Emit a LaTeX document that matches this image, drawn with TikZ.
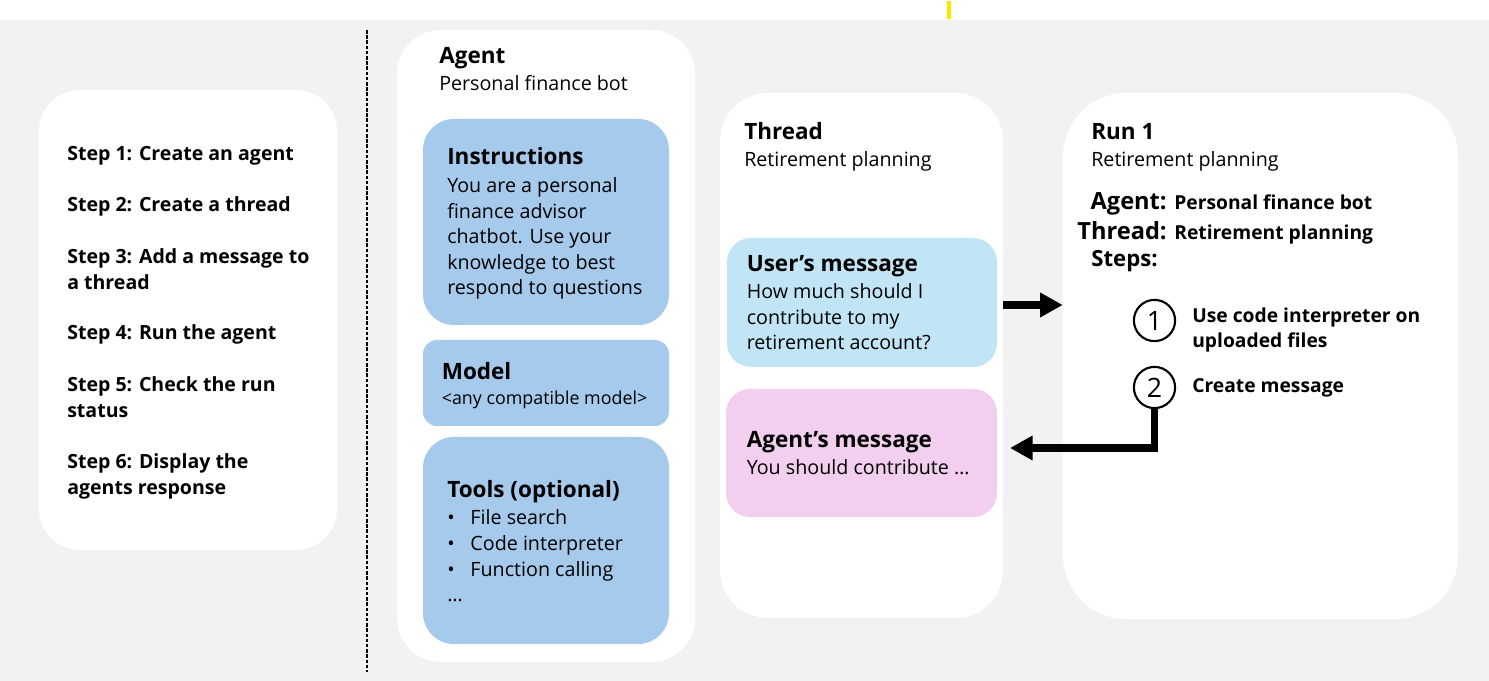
\documentclass[tikz,border=0pt]{standalone}
\usepackage{fontspec}
\setmainfont{Open Sans}
\usepackage{tikz}
\usetikzlibrary{arrows.meta,fit}

\definecolor{canvas}{HTML}{F2F2F2}
\definecolor{toolblue}{HTML}{A6CAEC}
\definecolor{userblue}{HTML}{C1E5F5}
\definecolor{agentpink}{HTML}{F2CFEE}
\definecolor{marker}{HTML}{FFE600}
\newcommand{\tbul}{\makebox[16.5pt][l]{\textbullet}}

\begin{document}
\begin{tikzpicture}[x=0.025cm,y=-0.025cm]
\tikzset{panel/.style = {fill=white,inner sep=0,rounded corners=#1}}
\tikzset{card/.style = {fill=toolblue,inner sep=0,rounded corners=#1}}
\tikzset{head/.style = {anchor=base west,inner sep=0,font=\bfseries\fontsize{16}{19}\selectfont}}
\tikzset{body/.style = {anchor=base west,inner sep=0,align=left,font=\fontsize{14}{18.3}\selectfont}}
\tikzset{stepnote/.style = {anchor=base west,inner sep=0,align=left,font=\bfseries\fontsize{13.9}{18.35}\selectfont}}
\tikzset{runval/.style = {anchor=base west,inner sep=0,align=left,font=\bfseries\fontsize{13.7}{18.4}\selectfont}}
\tikzset{runkey/.style = {anchor=base east,inner sep=0,font=\bfseries\fontsize{16.8}{19}\selectfont}}
\tikzset{num/.style = {shape=circle,draw,fill=white,line width=1.5pt,minimum size=1.03cm,inner sep=0,font=\fontsize{19}{19}\selectfont}}
\tikzset{flow/.style = {-{Triangle[length=16pt,width=16.5pt]},line width=5.5pt}}
\useasboundingbox (0,0) rectangle (1489,681);
% background
\fill[canvas] (0,0) rectangle (1489,681);
\fill[white] (0,0) rectangle (1489,20);
\fill[marker] (947,1) rectangle (951,19);
\draw[dash pattern=on 2.5pt off 1.2pt,line width=1pt] (367,30) -- (367,672);
% panels
\node[panel=29pt,fit={(39,90) (337,550)}] (steps) {};
\node[panel=31pt,fit={(397,30) (695,662)}] (agent) {};
\node[panel=34pt,fit={(720,93) (1003,618)}] (thread) {};
\node[panel=45pt,fit={(1063,93) (1458,619)}] (run) {};
\node[card=22pt,fit={(423,119) (669,325)}] (instr) {};
\node[card=10pt,fit={(423,340) (669,426)}] (model) {};
\node[card=22pt,fit={(423,437) (669,644)}] (tools) {};
\node[card=17pt,fill=userblue,fit={(727,238) (997,367)}] (usermsg) {};
\node[card=17pt,fill=agentpink,fit={(726,389) (997,517)}] (agentmsg) {};
% steps (multi-line nodes sit on their last baseline)
\node[stepnote] (s1) at (67,160.5) {Step 1: Create an agent};
\node[stepnote] (s2) at (67,212) {Step 2: Create a thread};
\node[stepnote] (s3) at (67,289.3) {Step 3: Add a message to\\a thread};
\node[stepnote] (s4) at (67,340) {Step 4: Run the agent};
\node[stepnote] (s5) at (67,417.3) {Step 5: Check the run\\status};
\node[stepnote] (s6) at (67,494.8) {Step 6: Display the\\agents response};
% agent
\node[head] (agt) at (439,64) {Agent};
\node[body] (agtsub) at (439,91) {Personal finance bot};
\node[head] (ins) at (447,165) {Instructions};
\node[body,font=\fontsize{14}{18.15}\selectfont] (instxt) at (447,295) {You are a personal\\finance advisor\\chatbot. Use your\\knowledge to best\\respond to questions};
\node[head] (mdl) at (441.5,379.5) {Model};
\node[body,font=\fontsize{12.7}{16}\selectfont] (mdltxt) at (441.5,405) {<any compatible model>};
\node[head] (tls) at (447,497.5) {Tools (optional)};
\node[body] (tlstxt) at (447,602) {\tbul File search\\\tbul Code interpreter\\\tbul Function calling\\…};
% thread
\node[head] (thr) at (744,139.5) {Thread};
\node[body] (thrsub) at (744,166.5) {Retirement planning};
\node[head] (usr) at (746.5,271.5) {User’s message};
\node[body] (usrtxt) at (746.5,350) {How much should I\\contribute to my\\retirement account?};
\node[head] (agm) at (746.5,447.7) {Agent’s message};
\node[body] (agmtxt) at (746.5,475) {You should contribute …};
% run
\node[head] (run1) at (1091,140) {Run 1};
\node[body] (runsub) at (1091,166.7) {Retirement planning};
\node[runkey] (ragl) at (1167,210) {Agent:};
\node[runval] (ragv) at (1174,210) {Personal finance bot};
\node[runkey] (rthl) at (1167,239.5) {Thread:};
\node[runval] (rthv) at (1174,239.5) {Retirement planning};
\node[runval,font=\bfseries\fontsize{15.8}{18}\selectfont] (rst) at (1091,266.5) {Steps:};
\node[num] (c1) at (1154.5,320.5) {1};
\node[num] (c2) at (1154.5,387.5) {2};
\node[runval] (u1) at (1192,348) {Use code interpreter on\\uploaded files};
\node[runval] (u2) at (1192,393) {Create message};
% arrows
\coordinate (ask) at (1004,305);
\coordinate (reply) at (1010,448);
\draw[flow] (thread.east |- ask) -- (run.west |- ask);
\draw[flow] (c2.south) |- (reply);
\end{tikzpicture}
\end{document}
